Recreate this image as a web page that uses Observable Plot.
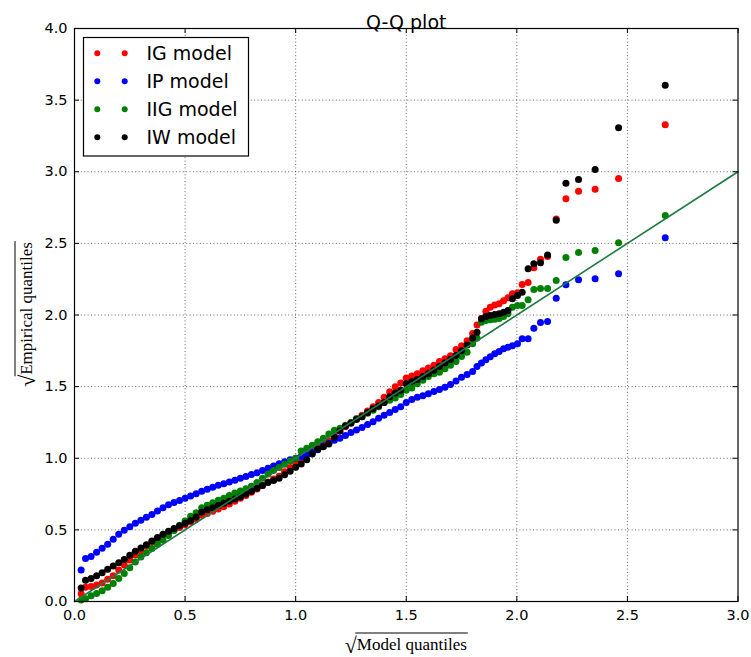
<!DOCTYPE html>
<html><head><meta charset="utf-8">
<script src="https://cdn.jsdelivr.net/npm/d3@7"></script>
<script src="https://cdn.jsdelivr.net/npm/@observablehq/plot@0.6"></script>
<style>body{margin:0;background:#fff;} svg{display:block}</style>
</head><body><div id="chart"></div>
<script>
// ---------- data ----------
const title = "Q-Q plot";
const xLabel = "Model quantiles";
const yLabel = "Empirical quantiles";
const seriesNames = ["IG model", "IP model", "IIG model", "IW model"];
const seriesColors = ["#ff0000", "#0000ff", "#008000", "#000000"];
const xTicks = [0, 0.5, 1.0, 1.5, 2.0, 2.5, 3.0];
const yTicks = [0, 0.5, 1.0, 1.5, 2.0, 2.5, 3.0, 3.5, 4.0];
const refLine = [0, 3]; // y = x reference line endpoints (x values)

// sqrt model quantiles (shared x positions)
const modelQ = [
  0.03,0.05,0.075,0.10,0.125,0.15,0.175,0.20,0.225,0.25,
  0.275,0.30,0.325,0.35,0.375,0.40,0.425,0.45,0.475,0.50,
  0.525,0.55,0.575,0.60,0.625,0.65,0.675,0.70,0.725,0.75,
  0.775,0.80,0.825,0.85,0.875,0.90,0.925,0.95,0.975,1.00,
  1.025,1.05,1.075,1.10,1.125,1.15,1.175,1.20,1.225,1.25,
  1.275,1.30,1.325,1.35,1.375,1.40,1.425,1.45,1.475,1.50,
  1.525,1.55,1.575,1.60,1.625,1.65,1.675,1.70,1.725,1.75,
  1.775,1.80,1.82,1.84,1.86,1.88,1.90,1.92,1.94,1.96,
  1.98,2.003,2.024,2.051,2.077,2.107,2.139,2.178,2.222,2.279,
  2.354,2.46,2.671
];
// sqrt empirical quantiles per model
const igEmp = [
  0.054,0.10,0.105,0.115,0.13,0.155,0.18,0.22,0.255,0.29,
  0.325,0.355,0.385,0.413,0.436,0.46,0.478,0.497,0.516,0.535,
  0.555,0.575,0.602,0.615,0.63,0.645,0.662,0.68,0.70,0.72,
  0.74,0.762,0.785,0.81,0.835,0.855,0.875,0.905,0.935,0.963,
  0.99,1.03,1.06,1.085,1.105,1.12,1.16,1.19,1.22,1.25,
  1.275,1.30,1.33,1.36,1.39,1.425,1.465,1.50,1.525,1.56,
  1.575,1.59,1.61,1.63,1.65,1.675,1.695,1.715,1.76,1.785,
  1.82,1.87,1.93,1.975,2.027,2.054,2.07,2.078,2.10,2.12,
  2.148,2.155,2.213,2.227,2.329,2.390,2.408,2.67,2.811,2.864,
  2.878,2.953,3.328
];
const ipEmp = [
  0.22,0.30,0.315,0.343,0.372,0.40,0.435,0.47,0.498,0.522,
  0.547,0.568,0.588,0.607,0.632,0.655,0.676,0.691,0.705,0.721,
  0.736,0.753,0.77,0.784,0.797,0.812,0.822,0.835,0.847,0.86,
  0.873,0.886,0.898,0.915,0.93,0.946,0.962,0.975,0.99,1.0,
  1.012,1.024,1.04,1.06,1.085,1.105,1.125,1.14,1.158,1.18,
  1.198,1.215,1.235,1.255,1.28,1.30,1.32,1.34,1.36,1.39,
  1.41,1.425,1.437,1.45,1.466,1.48,1.495,1.515,1.54,1.566,
  1.585,1.606,1.64,1.665,1.688,1.708,1.73,1.745,1.765,1.775,
  1.785,1.80,1.834,1.834,1.908,1.948,1.955,2.117,2.211,2.246,
  2.253,2.288,2.539
];
const iigEmp = [
  0.01,0.02,0.04,0.055,0.075,0.10,0.125,0.16,0.195,0.235,
  0.275,0.31,0.34,0.37,0.40,0.428,0.46,0.495,0.53,0.562,
  0.595,0.62,0.655,0.672,0.69,0.706,0.72,0.74,0.758,0.772,
  0.787,0.805,0.83,0.86,0.89,0.915,0.935,0.958,0.98,1.0,
  1.05,1.07,1.09,1.115,1.14,1.17,1.195,1.21,1.23,1.25,
  1.275,1.29,1.315,1.335,1.36,1.39,1.405,1.42,1.445,1.475,
  1.49,1.52,1.545,1.57,1.59,1.60,1.625,1.65,1.675,1.71,
  1.74,1.80,1.84,1.95,1.962,1.967,1.97,1.975,1.99,2.008,
  2.054,2.066,2.066,2.106,2.178,2.185,2.185,2.241,2.401,2.436,
  2.450,2.504,2.695
];
const iwEmp = [
  0.095,0.148,0.16,0.18,0.20,0.225,0.248,0.27,0.294,0.323,
  0.35,0.373,0.397,0.422,0.446,0.47,0.49,0.509,0.528,0.547,
  0.566,0.59,0.625,0.64,0.655,0.67,0.685,0.70,0.715,0.73,
  0.75,0.77,0.79,0.81,0.83,0.845,0.86,0.885,0.91,0.938,
  0.96,0.99,1.03,1.065,1.08,1.10,1.147,1.19,1.225,1.245,
  1.27,1.29,1.32,1.345,1.365,1.39,1.43,1.455,1.475,1.52,
  1.535,1.55,1.57,1.59,1.615,1.64,1.665,1.69,1.717,1.75,
  1.79,1.84,1.88,1.973,1.99,1.997,2.003,2.008,2.02,2.031,
  2.113,2.136,2.159,2.322,2.357,2.364,2.418,2.662,2.920,2.946,
  3.016,3.307,3.604
];

// ---------- build ----------
const seriesValues = [igEmp, ipEmp, iigEmp, iwEmp];
const points = [];
seriesNames.forEach((name, s) => {
  modelQ.forEach((x, i) => points.push({model: name, x, y: seriesValues[s][i]}));
});

const W = 751, H = 657, mL = 74, mR = 13.5, mT = 28, mB = 56;
const innerW = W - mL - mR, innerH = H - mT - mB;
const tickLen = 5;
const fmt = d3.format(".1f");

const chart = Plot.plot({
  width: W, height: H,
  marginLeft: mL, marginRight: mR, marginTop: mT, marginBottom: mB,
  style: {fontFamily: "'DejaVu Sans', sans-serif", fontSize: "14.5px", background: "#fff", overflow: "visible", color: "#000"},
  x: {domain: [0, 3]},
  y: {domain: [0, 4]},
  color: {domain: seriesNames, range: seriesColors},
  marks: [
    Plot.gridX(xTicks.slice(1, -1), {stroke: "#000", strokeOpacity: 0.6, strokeWidth: 1, strokeDasharray: "1,2.4"}),
    Plot.gridY(yTicks.slice(1, -1), {stroke: "#000", strokeOpacity: 0.6, strokeWidth: 1, strokeDasharray: "1,2.4"}),
    Plot.dot(points, {x: "x", y: "y", fill: "model", r: 3.5}),
    Plot.line(refLine, {x: d => d, y: d => d, stroke: "#1e7a42", strokeWidth: 1.6}),
    Plot.frame({stroke: "#000", strokeWidth: 1.2}),
    Plot.ruleX(xTicks, {x: d => d, insetTop: innerH - tickLen, stroke: "#000"}),
    Plot.ruleX(xTicks, {x: d => d, insetBottom: innerH - tickLen, stroke: "#000"}),
    Plot.ruleY(yTicks, {y: d => d, insetRight: innerW - tickLen, stroke: "#000"}),
    Plot.ruleY(yTicks, {y: d => d, insetLeft: innerW - tickLen, stroke: "#000"}),
    Plot.axisX(xTicks, {tickSize: 0, tickPadding: 8, tickFormat: fmt, label: null, fontSize: 14.5}),
    Plot.axisY(yTicks, {tickSize: 0, tickPadding: 7, tickFormat: fmt, label: null, fontSize: 14.5}),
    Plot.text([title], {frameAnchor: "top", dy: -13.5, fontSize: 19, fill: "#000"})
  ]
});
document.getElementById("chart").appendChild(chart);

const svg = d3.select(chart);

// axis labels with square-root sign
function sqrtLabel(transform, words) {
  const g = svg.append("g").attr("transform", transform)
    .attr("text-anchor", "start")
    .style("font-family", "'Liberation Serif', 'DejaVu Serif', serif").attr("fill", "#000");
  const rad = g.append("text").attr("font-size", 22).attr("text-anchor", "start").text("\u221A");
  const txt = g.append("text").attr("font-size", 17).attr("text-anchor", "start").text(words);
  const rw = rad.node().getComputedTextLength();
  const tw = txt.node().getComputedTextLength();
  const total = rw + tw;
  const x0 = -total / 2;
  rad.attr("x", x0).attr("y", 2.5);
  txt.attr("x", x0 + rw);
  g.append("line").attr("x1", x0 + rw - 1.5).attr("x2", x0 + total + 1)
    .attr("y1", -17).attr("y2", -17).attr("stroke", "#000").attr("stroke-width", 1);
}
sqrtLabel(`translate(${mL + innerW / 2},650)`, xLabel);
sqrtLabel(`translate(32,${mT + innerH / 2}) rotate(-90)`, yLabel);

// legend
const lg = svg.append("g").style("font-family", "'DejaVu Sans', sans-serif").attr("text-anchor", "start");
lg.append("rect").attr("x", 83.5).attr("y", 37.5).attr("width", 165).attr("height", 118.5)
  .attr("fill", "#fff").attr("stroke", "#000").attr("stroke-width", 1.2);
seriesNames.forEach((name, i) => {
  const cy = 53.3 + i * 28;
  [97.3, 124.7].forEach(cx => lg.append("circle").attr("cx", cx).attr("cy", cy).attr("r", 3)
    .attr("fill", seriesColors[i]));
  lg.append("text").attr("x", 146.5).attr("y", cy + 7).attr("font-size", 19)
    .attr("text-anchor", "start").attr("fill", "#000").text(name);
});
</script>
</body></html>
